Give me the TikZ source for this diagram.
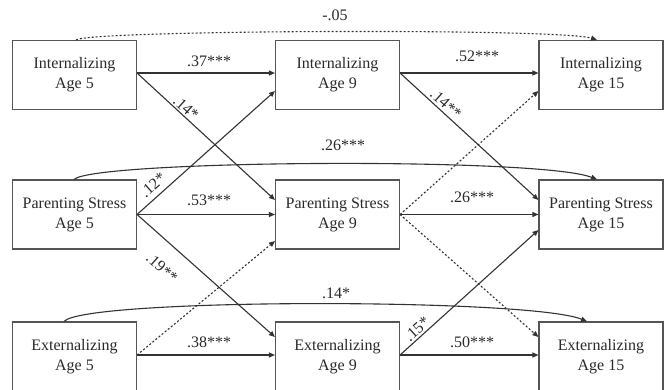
\documentclass[tikz,border=0pt]{standalone}
\usepackage{fontspec}
\setmainfont{Liberation Serif}
\usetikzlibrary{arrows.meta}
\definecolor{boxgray}{HTML}{555555}
\definecolor{linegray}{HTML}{333333}
\definecolor{txtgray}{HTML}{2A2A2A}
\begin{document}
\begin{tikzpicture}[x=1pt,y=-1pt,
  box/.style={draw=boxgray, line width=1.1pt, minimum width=124pt, minimum height=69pt,
    align=center, font=\fontsize{16}{20}\selectfont, text=txtgray, inner sep=0pt},
  lab/.style={font=\fontsize{16}{18}\selectfont, text=txtgray, inner sep=0pt},
  arr/.style={draw=linegray, line width=1.1pt, -{Triangle[length=6pt,width=5pt]}},
  dotarr/.style={arr, dash pattern=on 2pt off 2pt}]
\useasboundingbox (0,0) rectangle (665,389);
\fill[white] (0,0) rectangle (665,389);
\clip (0,0) rectangle (665,389);

% boxes
\node[box] (i5)  at (74.5,75)    {Internalizing\\Age 5};
\node[box] (i9)  at (337.5,75)   {Internalizing\\Age 9};
\node[box] (i15) at (601,75)     {Internalizing\\Age 15};
\node[box] (p5)  at (74.5,214.5) {Parenting Stress\\Age 5};
\node[box] (p9)  at (337.5,214.5){Parenting Stress\\Age 9};
\node[box] (p15) at (601,214.5)  {Parenting Stress\\Age 15};
\node[box] (e5)  at (74.5,356.5) {Externalizing\\Age 5};
\node[box] (e9)  at (337.5,356.5){Externalizing\\Age 9};
\node[box] (e15) at (601,356.5)  {Externalizing\\Age 15};

% long arcs
\draw[dotarr] ([xshift=1.5pt]i5.north) .. controls (90,30) and (560,28) .. ([xshift=-4pt]i15.north);
\draw[arr] ([xshift=-0.5pt]p5.north) .. controls (95,160) and (540,157) .. ([xshift=-4pt]p15.north);
\draw[arr] ([xshift=-10.5pt]e5.north) .. controls (85,298) and (530,298) .. ([xshift=-14pt]e15.north);

% age 5 -> age 9
\draw[arr] ([yshift=2pt]i5.east) -- ([yshift=2pt]i9.west);
\draw[arr] ([yshift=2pt]i5.east) -- ([yshift=14.5pt]p9.west);
\draw[arr] (p5.east) -- ([yshift=-16pt]i9.west);
\draw[arr] (p5.east) -- (p9.west);
\draw[arr] (p5.east) -- ([yshift=19.5pt]e9.west);
\draw[dotarr] ([yshift=1.5pt]e5.east) -- ([yshift=-26.5pt]p9.west);
\draw[arr] ([yshift=1.5pt]e5.east) -- ([yshift=1.5pt]e9.west);

% age 9 -> age 15
\draw[arr] ([yshift=2pt]i9.east) -- ([yshift=2pt]i15.west);
\draw[arr] ([yshift=2pt]i9.east) -- ([yshift=14.5pt]p15.west);
\draw[dotarr] (p9.east) -- ([yshift=-16pt]i15.west);
\draw[arr] (p9.east) -- (p15.west);
\draw[dotarr] (p9.east) -- ([yshift=19.5pt]e15.west);
\draw[arr] ([yshift=1.5pt]e9.east) -- ([yshift=-15.5pt]p15.west);
\draw[arr] ([yshift=1.5pt]e9.east) -- ([yshift=1.5pt]e15.west);

% labels
\node[lab] (l1)  at (335,15)  {-.05};
\node[lab] (l2)  at (209,61)  {.37***};
\node[lab] (l3)  at (477,56)  {.52***};
\node[lab] (l4)  at (343,145) {.26***};
\node[lab] (l5)  at (209,200) {.53***};
\node[lab] (l6)  at (472,197) {.26***};
\node[lab] (l7)  at (336,293) {.14*};
\node[lab] (l8)  at (209,342) {.38***};
\node[lab] (l9)  at (472,342) {.50***};
\node[lab, rotate=-42] (l10) at (186,108) {.14*};
\node[lab, rotate=-42] (l11) at (446,104) {.14**};
\node[lab, rotate=41.5] (l12) at (153,185) {.12*};
\node[lab, rotate=-41.5] (l13) at (162,268) {.19**};
\node[lab, rotate=42] (l14) at (417,329) {.15*};
\end{tikzpicture}
\end{document}
